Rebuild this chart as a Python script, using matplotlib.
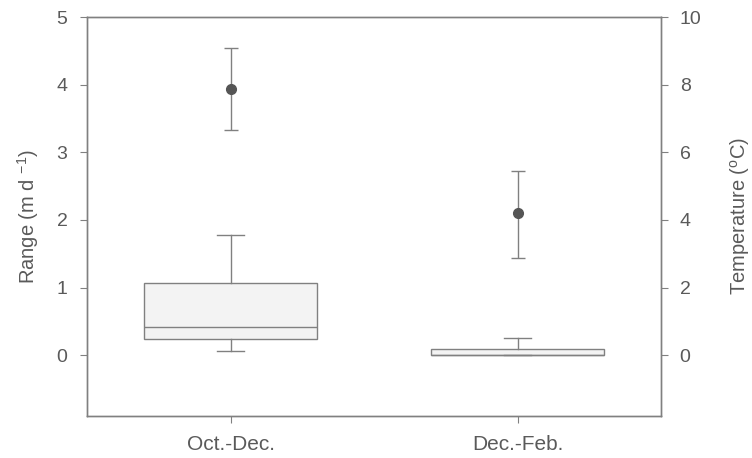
import matplotlib
matplotlib.use("Agg")
import matplotlib.pyplot as plt

plt.rcParams['font.family'] = ['Liberation Sans', 'DejaVu Sans']
plt.rcParams['mathtext.fontset'] = 'custom'
plt.rcParams['mathtext.rm'] = 'Liberation Sans'
plt.rcParams['mathtext.it'] = 'Liberation Sans:italic'

categories = ["Oct.-Dec.", "Dec.-Feb."]
# Range box statistics (m d-1)
whislo = [0.055, 0.0]
q1 = [0.24, 0.0]
med = [0.41, 0.0]
q3 = [1.06, 0.09]
whishi = [1.78, 0.26]
# Temperature mean and error (oC)
temp_mean = [7.88, 4.19]
temp_lo = [6.67, 2.87]
temp_hi = [9.07, 5.44]

TXT = "#5a5a5a"
LN = "#808080"

fig = plt.figure(figsize=(7.52, 4.58), dpi=100)
ax = fig.add_axes([87/752, 1-416/458, 574/752, (416-17)/458])

stats = []
for i, c in enumerate(categories):
    stats.append(dict(label=c, whislo=whislo[i], q1=q1[i], med=med[i],
                      q3=q3[i], whishi=whishi[i], fliers=[]))
pos = [1, 2]
ax.bxp(stats, positions=pos, widths=0.6, patch_artist=True, showfliers=False,
       boxprops=dict(facecolor="#f3f3f3", edgecolor=LN, linewidth=1.0),
       medianprops=dict(color=LN, linewidth=1.0),
       whiskerprops=dict(color=LN, linewidth=1.0),
       capprops=dict(color=LN, linewidth=1.0),
       capwidths=0.095)

ax.set_xlim(0.5, 2.5)
ax.set_ylim(-0.9, 5)
ax.set_yticks([0, 1, 2, 3, 4, 5])
ax.set_xticks(pos)
ax.set_xticklabels(categories)

ax2 = ax.twinx()
ax2.set_ylim(-1.8, 10)
ax2.set_yticks([0, 2, 4, 6, 8, 10])
yerr = [[m - l for m, l in zip(temp_mean, temp_lo)],
        [h - m for m, h in zip(temp_mean, temp_hi)]]
ax2.errorbar(pos, temp_mean, yerr=yerr, fmt="o", color="#555555",
             ecolor=LN, elinewidth=1.0, capsize=5, capthick=1.0,
             markersize=7, zorder=5)

for a in (ax, ax2):
    for s in a.spines.values():
        s.set_color(LN)
        s.set_linewidth(1.0)
    a.tick_params(colors=LN, labelcolor=TXT, labelsize=14, length=5,
                  width=0.8, direction="out")
ax.tick_params(axis="y", pad=9)
ax2.tick_params(axis="y", pad=8.5)
ax.tick_params(axis="x", pad=9, labelsize=15)

ax.set_ylabel("Range (m d $^{\\mathrm{-1}}$)", color=TXT, fontsize=14.5)
ax.yaxis.set_label_coords(-0.08, 0.5)
ax2.set_ylabel("Temperature ($^{\\mathrm{o}}$C)", color=TXT, fontsize=14.5)
ax2.yaxis.set_label_coords(1.117, 0.5)

fig.savefig("out.png", dpi=100)
